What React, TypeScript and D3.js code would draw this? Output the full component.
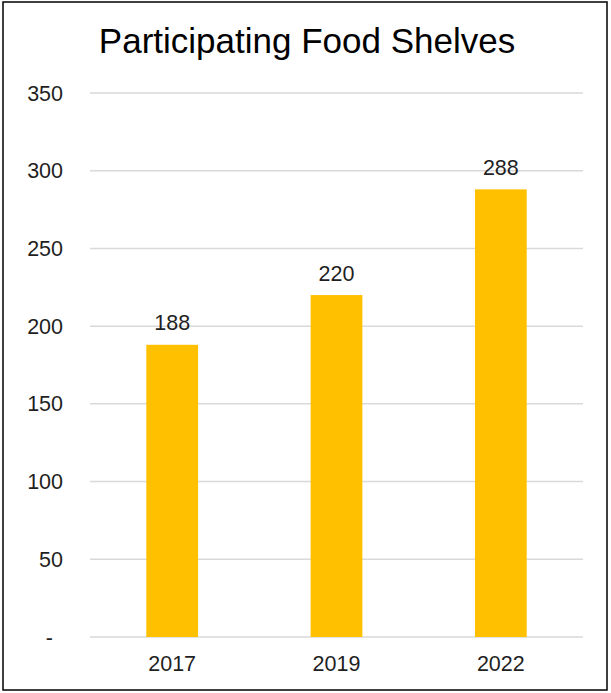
import React from "react";
import * as d3 from "d3";

const categories = ["2017", "2019", "2022"];
const values = [188, 220, 288];
const yTicks = [0, 50, 100, 150, 200, 250, 300, 350];
const title = "Participating Food Shelves";

export default function App() {
  const W = 611, H = 693;
  const left = 90, right = 583, top = 93, bottom = 637;
  const x = d3.scaleBand<string>().domain(categories).range([left, right]).paddingInner(0.685).paddingOuter(0.3425);
  const y = d3.scaleLinear().domain([0, 350]).range([bottom, top]);
  const font = "'Liberation Sans', Arial, sans-serif";
  return (
    <svg width={W} height={H} style={{ position: "absolute", left: 0, top: 0 }} fontFamily={font}>
      <rect x={0} y={0} width={W} height={H} fill="#fff" />
      <rect x={3} y={2} width={604} height={688} fill="none" stroke="#000" strokeWidth={1.5} />
      <text x={307} y={53} textAnchor="middle" fontSize={35} fill="#000">{title}</text>
      {yTicks.map((t) => (
        <g key={t}>
          <line x1={left} x2={right} y1={y(t)} y2={y(t)} stroke="#d9d9d9" strokeWidth={1.5} />
          <text x={t === 0 ? 53 : 63} y={y(t)} dy="0.35em" textAnchor="end" fontSize={21.5} fill="#1f1f1f">
            {t === 0 ? "-" : d3.format(",")(t)}
          </text>
        </g>
      ))}
      {categories.map((c, i) => (
        <g key={c}>
          <rect x={x(c)} y={y(values[i])} width={x.bandwidth()} height={y(0) - y(values[i])} fill="#FFC000" />
          <text x={x(c)! + x.bandwidth() / 2} y={y(values[i]) - 14.5} textAnchor="middle" fontSize={21.5} fill="#1f1f1f">
            {values[i]}
          </text>
          <text x={x(c)! + x.bandwidth() / 2} y={670.5} textAnchor="middle" fontSize={21.5} fill="#1f1f1f">
            {c}
          </text>
        </g>
      ))}
    </svg>
  );
}
